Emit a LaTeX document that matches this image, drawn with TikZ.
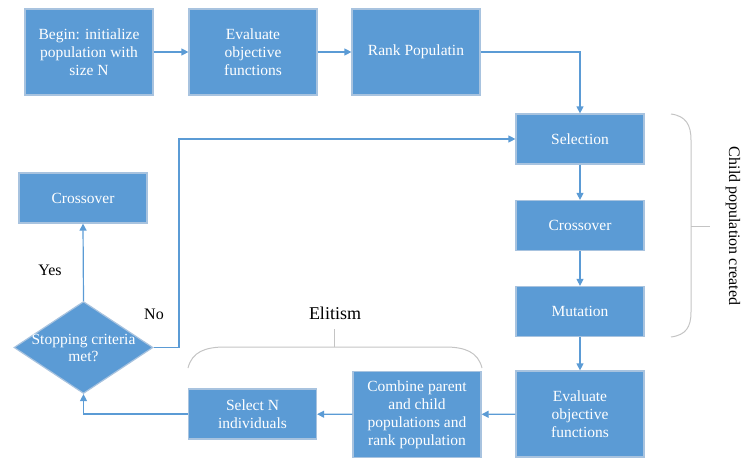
\documentclass[tikz,border=0pt]{standalone}
\usepackage{fontspec}
\setmainfont{Liberation Serif}
\usetikzlibrary{shapes.geometric,arrows.meta}
\definecolor{boxblue}{HTML}{5B9BD5}
\definecolor{boxedge}{HTML}{A8C3DF}
\definecolor{bracegray}{HTML}{C4C4C4}

\begin{document}
\begin{tikzpicture}[
      x=1pt, y=-1pt,
      box/.style={rectangle, fill=boxblue, draw=boxedge, line width=1.2pt, text=white,
                  align=center, minimum width=128pt, inner sep=2pt,
                  font=\fontsize{15.5}{18}\selectfont},
      tallbox/.style={box, minimum height=86pt},
      shortbox/.style={box, minimum height=50pt},
      decision/.style={diamond, fill=boxblue, draw=boxedge, line width=1.2pt, text=white,
                  align=center, minimum width=139pt, minimum height=92pt, inner sep=0pt,
                  font=\fontsize{15.5}{17}\selectfont},
      lbl/.style={font=\fontsize{16}{18}\selectfont},
      flow/.style={->, draw=boxblue, line width=1.2pt},
      brace/.style={draw=bracegray, line width=1pt},
      >={Triangle[length=7pt,width=7pt]}
  ]
  \useasboundingbox (0,0) rectangle (742,458);

  % Top row
  \node[tallbox] (init) at (89,52) {Begin: initialize\\population with\\size N};
  \node[tallbox] (eval) at (253,52) {Evaluate\\objective\\functions};
  \node[tallbox] (rank) at (416,52) {Rank Populatin};

  % Right column
  \node[shortbox] (select) at (580,139) {Selection};
  \node[shortbox] (cross) at (580,225.5) {Crossover};
  \node[shortbox] (mutate) at (580,311.5) {Mutation};
  \node[tallbox] (evalchild) at (580,414) {Evaluate\\objective\\functions};

  % Bottom row and left column
  \node[tallbox] (combine) at (417,414.5) {Combine parent\\and child\\populations and\\rank population};
  \node[shortbox] (selectn) at (252.5,414) {Select N\\individuals};
  \node[decision] (stop) at (83.5,347.5) {\makebox[0pt]{Stopping criteria}\\\makebox[0pt]{met?}};
  \node[shortbox] (crossend) at (83,198) {Crossover};
  \coordinate (nobend) at (179,347.5);

  % Labels
  \node[lbl] (yes) at (50,270) {Yes};
  \node[lbl] (no) at (154,314) {No};
  \node[lbl, font=\fontsize{18}{20}\selectfont] (elit) at (335,313) {Elitism};
  \node[lbl, rotate=-90] (child) at (733,226) {Child population created};

  % Arrows connecting nodes
  \draw[flow] (init) -- (eval);
  \draw[flow] (eval) -- (rank);
  \draw[flow] (rank.east) -| (select.north);
  \draw[flow] (select) -- (cross);
  \draw[flow] (cross) -- (mutate);
  \draw[flow] (mutate) -- (evalchild);
  \draw[flow] (evalchild) -- (combine);
  \draw[flow] (combine) -- (selectn);
  \draw[flow] (selectn.west) -| (stop.south);
  \draw[flow] (stop.north) -- (crossend.south);
  \draw[flow] (stop.east) -- (nobend) |- (select.west);

  % Braces
  \draw[brace] (671,114) .. controls (686,116) and (691,125) .. (691,140)
    -- (691,312) .. controls (691,327) and (686,335) .. (671,337);
  \draw[brace] (691,226) -- (710,226);
  \draw[brace] (188,368) .. controls (192,352) and (205,347) .. (225,347)
    -- (445,347) .. controls (465,347) and (478,352) .. (482,368);
  \draw[brace] (334,347) -- (334,329);

\end{tikzpicture}
\end{document}
